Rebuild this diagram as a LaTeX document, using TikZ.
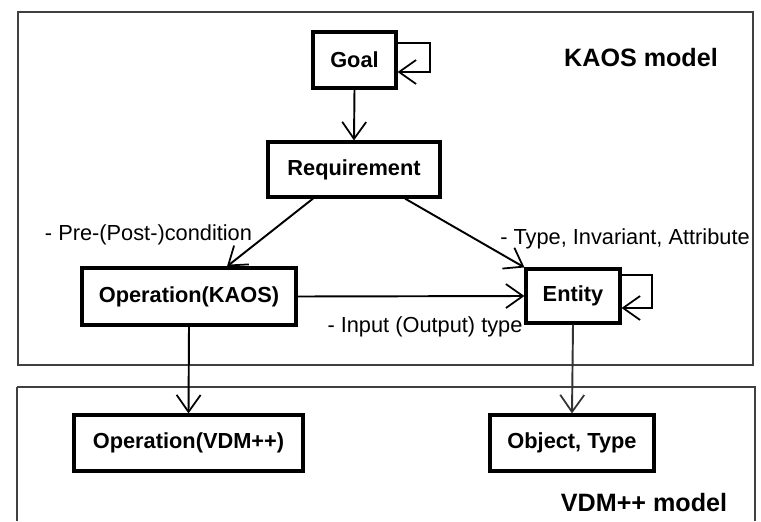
\documentclass[tikz,border=0pt]{standalone}
\usepackage{fontspec}
\setmainfont{Liberation Sans}
\usetikzlibrary{arrows.meta}
\begin{document}
\begin{tikzpicture}[x=0.02cm, y=-0.02cm, >={Straight Barb[length=0.34cm,width=0.48cm,line width=1pt]},
    box/.style={draw, line width=1.8pt, inner sep=0pt, font=\fontsize{12.4}{14}\selectfont\bfseries},
    note/.style={font=\fontsize{12.4}{14}\selectfont, inner sep=0pt},
    title/.style={font=\fontsize{14.3}{16}\selectfont\bfseries, inner sep=0pt},
    frame/.style={draw=black!75, line width=1.1pt},
    link/.style={->, line width=1.1pt}]
  \useasboundingbox (0,0) rectangle (761,521);
  % the two model areas
  \draw[frame] (18,12) rectangle (753,365);
  \draw[frame] (17,387) -- (755,387) -- (755,521) (17,387) -- (17,521);
  \node[title] (kaos) at (641,58) {KAOS model};
  \node[title] (vdm) at (644,503) {VDM++ model};
  % KAOS side
  \node[box, minimum width=1.66cm, minimum height=1.12cm] (goal) at (354.5,60) {Goal};
  \node[box, minimum width=3.44cm, minimum height=1.1cm] (req) at (354,169.5) {Requirement};
  \node[box, minimum width=4.28cm, minimum height=1.14cm] (opk) at (189,296.5) {Operation(KAOS)};
  \node[box, minimum width=1.88cm, minimum height=1.08cm] (ent) at (573,296) {Entity};
  % VDM++ side
  \node[box, minimum width=4.58cm, minimum height=1.12cm] (opv) at (188.5,443) {Operation(VDM++)};
  \node[box, minimum width=3.28cm, minimum height=1.12cm] (obj) at (572,443) {Object, Type};
  % labels on the links
  \node[note] (pre) at (148.5,235) {- Pre-(Post-)condition};
  \node[note] (inv) at (625,239) {- Type, Invariant, Attribute};
  \node[note] (io) at (425,327) {- Input (Output) type};
  % links
  \draw[link] (goal.south) -- (req.north);
  \draw[link] ([yshift=0.34cm]goal.east) -- ++(32,0) |- ([yshift=-0.24cm]goal.east);
  \draw[link] ([xshift=-0.82cm]req.south) -- ([xshift=0.76cm]opk.north);
  \draw[link] ([xshift=1.02cm]req.south) -- (ent.north west);
  \draw[link] (opk.east) -- (ent.west);
  \draw[link] ([yshift=0.42cm]ent.east) -- ++(30,0) |- ([yshift=-0.24cm]ent.east);
  \draw[link] (opk.south) -- (opv.north);
  \draw[link, draw=black!80] (ent.south) -- (obj.north);
\end{tikzpicture}
\end{document}
